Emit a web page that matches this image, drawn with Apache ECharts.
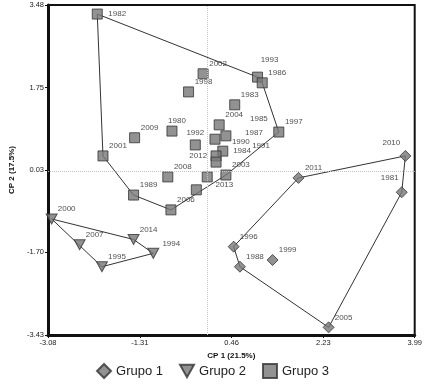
<!DOCTYPE html>
<html>
<head>
<meta charset="utf-8">
<script src="https://cdn.jsdelivr.net/npm/echarts@6/dist/echarts.min.js"></script>
<style>
  html, body { margin: 0; padding: 0; background: #fff; }
  #chart { width: 425px; height: 386px; }
</style>
</head>
<body>
<div id="chart"></div>
<script>
// Grupo 1 (diamonds)
const group1Years = ["2010", "2011", "1981", "1996", "1999", "1988", "2005"];
const group1X = [3.81, 1.75, 3.74, 0.50, 1.25, 0.62, 2.33];
const group1Y = [0.32, -0.14, -0.44, -1.58, -1.86, -2.00, -3.27];

// Grupo 2 (triangles)
const group2Years = ["2000", "2007", "2014", "1994", "1995"];
const group2X = [-3.01, -2.47, -1.43, -1.05, -2.04];
const group2Y = [-1.00, -1.54, -1.43, -1.72, -2.00];

// Grupo 3 (squares)
const group3Years = ["1982", "2002", "1998", "1993", "1986", "1983", "2004", "1997",
  "1985", "1987", "1990", "1984", "1991", "2003", "2012", "2009", "1980", "1992",
  "2001", "2008", "1989", "2006", "2013"];
const group3X = [-2.13, -0.09, -0.37, 0.96, 1.05, 0.52, 0.22, 1.37,
  0.35, 0.14, 0.29, 0.16, 0.16, 0.35, -0.01, -1.41, -0.69, -0.24,
  -2.02, -0.77, -1.43, -0.71, -0.22];
const group3Y = [3.29, 2.04, 1.66, 1.97, 1.85, 1.39, 0.97, 0.82,
  0.74, 0.67, 0.42, 0.32, 0.19, -0.08, -0.12, 0.70, 0.84, 0.55,
  0.32, -0.12, -0.50, -0.81, -0.39];

const xTicks = [-3.08, -1.31, 0.46, 2.23, 3.99];
const yTicks = [-3.43, -1.70, 0.03, 1.75, 3.48];

// label placement tweaks (pixels from the marker centre)
const defaultOffset = [15, -10];
const labelOffsets = {
  "1982": [20, 0], "1993": [12, -17], "1992": [0, -12], "1980": [5, -10],
  "1985": [33, -17], "1987": [39, -6], "1990": [18, -9], "1984": [26, -5],
  "1991": [45, -16], "2012": [-9, -21], "2013": [28, -5],
  "2010": [-14, -13], "1981": [-12, -14], "1994": [18, -10]
};

function toPoints(years, xs, ys) {
  return years.map((y, i) => ({
    name: y,
    value: [xs[i], ys[i]],
    label: { offset: labelOffsets[y] || defaultOffset }
  }));
}

// convex hull (monotone chain), returned closed
function hull(xs, ys) {
  const pts = xs.map((x, i) => [x, ys[i]]).sort((a, b) => a[0] - b[0] || a[1] - b[1]);
  const cross = (o, a, b) => (a[0] - o[0]) * (b[1] - o[1]) - (a[1] - o[1]) * (b[0] - o[0]);
  const lower = [];
  for (const p of pts) {
    while (lower.length >= 2 && cross(lower[lower.length - 2], lower[lower.length - 1], p) <= 0) lower.pop();
    lower.push(p);
  }
  const upper = [];
  for (let i = pts.length - 1; i >= 0; i--) {
    const p = pts[i];
    while (upper.length >= 2 && cross(upper[upper.length - 2], upper[upper.length - 1], p) <= 0) upper.pop();
    upper.push(p);
  }
  upper.pop();
  lower.pop();
  const h = lower.concat(upper);
  h.push(h[0]);
  return h;
}

const chart = echarts.init(document.getElementById("chart"), null, { renderer: "canvas" });

const FONT = "Liberation Sans, Arial, sans-serif";
const markerStyle = { color: "#777", borderColor: "#333", borderWidth: 1 };
const pointLabel = {
  show: true,
  position: "inside",
  formatter: (p) => p.name,
  fontSize: 8,
  fontFamily: FONT,
  color: "#222"
};
const triangleDown = "path://M0,0 L10,0 L5,9 Z";

function hullSeries(xs, ys) {
  return {
    type: "line",
    data: hull(xs, ys),
    symbol: "none",
    silent: true,
    z: 1,
    lineStyle: { color: "#333", width: 1 }
  };
}

const option = {
  animation: false,
  backgroundColor: "#fff",
  grid: {
    left: 42, right: 10, top: 5, bottom: 51,
    show: true, borderColor: "#111", borderWidth: 2
  },
  xAxis: {
    type: "value",
    min: -3.08, max: 3.99,
    name: "CP 1 (21.5%)",
    nameLocation: "middle",
    nameGap: 16,
    nameTextStyle: { fontSize: 8, fontWeight: "bold", fontFamily: FONT, color: "#111" },
    axisLine: { show: true, onZero: false, lineStyle: { color: "#111", width: 3 } },
    axisTick: { show: true, length: 3, customValues: xTicks, lineStyle: { color: "#111", width: 1 } },
    axisLabel: {
      customValues: xTicks, fontSize: 7.5, fontFamily: FONT, color: "#222", margin: 4,
      formatter: (v) => v.toFixed(2)
    },
    splitLine: { show: false }
  },
  yAxis: {
    type: "value",
    min: -3.43, max: 3.48,
    name: "CP 2 (17.5%)",
    nameLocation: "middle",
    nameGap: 27,
    nameTextStyle: { fontSize: 8, fontWeight: "bold", fontFamily: FONT, color: "#111" },
    axisLine: { show: true, onZero: false, lineStyle: { color: "#111", width: 3 } },
    axisTick: { show: true, length: 3, customValues: yTicks, lineStyle: { color: "#111", width: 1 } },
    axisLabel: {
      customValues: yTicks, fontSize: 7.5, fontFamily: FONT, color: "#222", margin: 4,
      formatter: (v) => v.toFixed(2)
    },
    splitLine: { show: false }
  },
  legend: {
    data: ["Grupo 1", "Grupo 2", "Grupo 3"],
    bottom: 2,
    left: "center",
    itemWidth: 14,
    itemHeight: 14,
    itemGap: 16,
    textStyle: { fontSize: 13, fontFamily: FONT, color: "#222" }
  },
  series: [
    hullSeries(group1X, group1Y),
    hullSeries(group2X, group2Y),
    hullSeries(group3X, group3Y),
    {
      type: "line",
      data: [],
      silent: true,
      markLine: {
        silent: true,
        symbol: "none",
        label: { show: false },
        lineStyle: { color: "#c4c4c4", type: "dotted", width: 1 },
        data: [{ xAxis: 0 }, { yAxis: 0 }]
      }
    },
    {
      name: "Grupo 1",
      type: "scatter",
      symbol: "diamond",
      symbolSize: 11,
      z: 3,
      itemStyle: markerStyle,
      label: pointLabel,
      data: toPoints(group1Years, group1X, group1Y)
    },
    {
      name: "Grupo 2",
      type: "scatter",
      symbol: triangleDown,
      symbolSize: [11, 10],
      z: 3,
      itemStyle: markerStyle,
      label: pointLabel,
      data: toPoints(group2Years, group2X, group2Y)
    },
    {
      name: "Grupo 3",
      type: "scatter",
      symbol: "rect",
      symbolSize: 10,
      z: 3,
      itemStyle: markerStyle,
      label: pointLabel,
      data: toPoints(group3Years, group3X, group3Y)
    }
  ]
};

chart.setOption(option);
</script>
</body>
</html>
